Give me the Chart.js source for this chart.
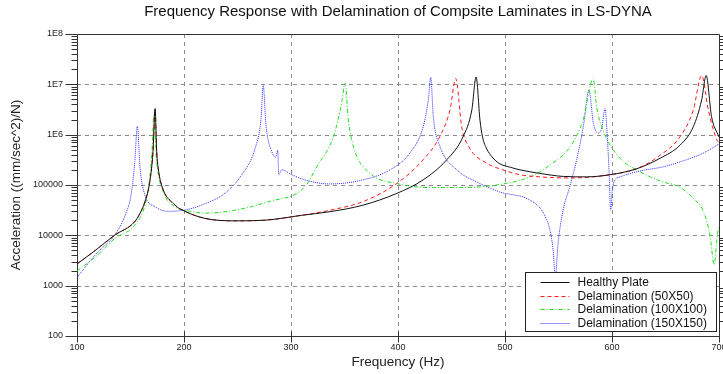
<!DOCTYPE html>
<html>
<head>
<meta charset="utf-8">
<script src="https://cdn.jsdelivr.net/npm/chart.js@4.4.1/dist/chart.umd.min.js"></script>
<style>
  html, body { margin: 0; padding: 0; background: #fff; }
  #wrap { width: 723px; height: 374px; }
</style>
</head>
<body>
<div id="wrap"><canvas id="frf"></canvas></div>
<script>
// values
const healthyFreq = [100, 117, 135, 154, 159, 163.5, 168, 171, 173, 174.5, 176, 179, 191.6, 201, 219.6, 247.7, 275.7, 310, 336.4, 367, 398.8, 423.4, 445.5, 460.8, 469, 473, 476.6, 479, 483, 488, 495, 505, 514, 532.7, 554.5, 576, 598, 623, 645, 663.6, 676, 683.8, 688, 693, 700];
const healthyAcc = [2700, 5000, 10000, 18700, 27700, 46500, 116000, 456000, 3300000, 456000, 210000, 100000, 40000, 30000, 21700, 19400, 20000, 25000, 29500, 39600, 68000, 126000, 316000, 910000, 3100000, 14000000, 1950000, 900000, 520000, 360000, 265000, 225000, 200000, 170000, 148000, 145000, 160000, 210000, 340000, 620000, 1440000, 4900000, 15000000, 2300000, 900000];

const del50Freq = [100, 117, 135, 154, 159, 163.5, 168, 171, 173, 174.5, 176, 179, 191.6, 201, 219.6, 247.7, 275.7, 310, 336.4, 367, 398.8, 423.4, 439, 448.6, 454, 459.5, 467, 483, 495, 514, 532.7, 561, 598, 623, 645, 663.6, 676, 683.8, 690, 698, 700];
const del50Acc = [2700, 5000, 10000, 18700, 27700, 46500, 116000, 456000, 3200000, 456000, 210000, 100000, 40000, 30000, 21700, 19400, 20000, 25000, 31600, 46500, 107000, 316000, 910000, 3100000, 13000000, 1450000, 540000, 270000, 210000, 160000, 145000, 138000, 160000, 210000, 390000, 910000, 3100000, 15000000, 3100000, 780000, 700000];

const del100Freq = [100, 117, 135.5, 154, 163.5, 168, 170.4, 171.7, 174.5, 180.7, 191.6, 201, 219.6, 247.7, 278.8, 313, 324, 339.6, 347.4, 350.5, 353.6, 358.3, 374, 398.8, 430, 461, 492, 523.4, 542, 561, 573, 582.5, 585.6, 591.8, 607.5, 623, 645, 663.6, 676, 685.4, 691.6, 695.5, 697.5, 699.4, 700];
const del100Acc = [1950, 3700, 8700, 16000, 40000, 138000, 620000, 2400000, 290000, 73000, 37000, 31600, 27600, 31600, 46500, 92000, 230000, 910000, 4300000, 10500000, 1950000, 580000, 170000, 107000, 89000, 89000, 100000, 145000, 250000, 580000, 1950000, 13000000, 3600000, 1200000, 340000, 200000, 120000, 90000, 54000, 30000, 10000, 2600, 6000, 13700, 14000];

const del150Freq = [100, 117, 135.5, 145, 151, 154, 156.4, 159, 163.5, 173, 185.4, 204, 219.6, 238, 254, 266.4, 272, 274, 276.6, 282, 285.7, 287.6, 288.5, 291.3, 300.7, 313, 336, 367, 392.5, 411, 423.6, 428.3, 430.6, 433, 439.3, 455, 473.6, 495, 523.4, 536, 542, 545, 547, 549.6, 554.3, 561, 567, 573.2, 578.5, 582.6, 587.3, 590.4, 593.5, 595.6, 597.2, 598.8, 600.3, 602.8, 607.5, 626, 648, 670, 685.4, 700];
const del150Acc = [1450, 4100, 10400, 25000, 73000, 290000, 1450000, 210000, 63000, 37000, 30000, 33000, 42500, 68000, 160000, 530000, 2100000, 9700000, 1550000, 460000, 360000, 490000, 160000, 200000, 160000, 126000, 105000, 126000, 200000, 430000, 1450000, 4900000, 13700000, 2300000, 580000, 200000, 115000, 73000, 50000, 27600, 12700, 5100, 1500, 6900, 31600, 100000, 320000, 1450000, 7700000, 1670000, 1070000, 1350000, 3300000, 910000, 200000, 31600, 80000, 126000, 145000, 190000, 230000, 320000, 430000, 650000];

const seriesNames = ['Healthy Plate', 'Delamination (50X50)', 'Delamination (100X100)', 'Delamination (150X150)'];

const yTickValues = [100, 1000, 10000, 100000, 1000000, 10000000, 100000000];
const yTickLabels = ['100', '1000', '10000', '100000', '1E6', '1E7', '1E8'];
const xTickValues = [100, 200, 300, 400, 500, 600, 700];

const FONT = "'Liberation Sans', Arial, sans-serif";

function toPoints(fs, vs) {
  return fs.map((f, i) => ({ x: f, y: vs[i] }));
}

// grid, axes, minor ticks and the boxed legend
const framePlugin = {
  id: 'frame',
  beforeDatasetsDraw(chart) {
    const { ctx, chartArea: a, scales: { x, y } } = chart;
    const px = v => Math.round(x.getPixelForValue(v)) + 0.5;
    const py = v => Math.round(y.getPixelForValue(v)) + 0.5;
    ctx.save();
    ctx.lineWidth = 1;
    ctx.strokeStyle = '#8a8a8a';
    ctx.setLineDash([4, 4]);
    ctx.beginPath();
    xTickValues.slice(1, -1).forEach(v => { ctx.moveTo(px(v), a.top); ctx.lineTo(px(v), a.bottom); });
    yTickValues.slice(1, -1).forEach(v => { ctx.moveTo(a.left, py(v)); ctx.lineTo(a.right, py(v)); });
    ctx.stroke();
    ctx.setLineDash([]);

    ctx.strokeStyle = '#333';
    const L = Math.round(a.left) + 0.5, R = Math.round(a.right) + 0.5;
    const T = py(yTickValues[yTickValues.length - 1]), B = py(yTickValues[0]);
    ctx.beginPath();
    ctx.moveTo(L, T); ctx.lineTo(R, T);
    ctx.moveTo(L, B); ctx.lineTo(R, B);
    ctx.moveTo(L, T); ctx.lineTo(L, B);
    ctx.moveTo(R, T); ctx.lineTo(R, B);
    // major ticks on the left axis
    yTickValues.forEach(v => { ctx.moveTo(L - 12, py(v)); ctx.lineTo(L, py(v)); });
    // minor ticks
    for (let d = 100; d < 1e8; d *= 10) {
      for (let k = 2; k <= 9; k++) {
        const yy = py(k * d);
        ctx.moveTo(L - 6, yy); ctx.lineTo(L, yy);
        ctx.moveTo(R, yy); ctx.lineTo(R + 5, yy);
      }
    }
    // x ticks cross the bottom axis
    xTickValues.forEach(v => { ctx.moveTo(px(v), B - 5); ctx.lineTo(px(v), B + 6); });
    ctx.stroke();
    ctx.restore();
  },
  afterDatasetsDraw(chart) {
    const { ctx, chartArea: a } = chart;
    const bx = Math.round(a.right) - 194 + 0.5, by = 272.5, bw = 191, bh = 59;
    ctx.save();
    ctx.fillStyle = '#fff';
    ctx.fillRect(bx, by, bw, bh);
    ctx.strokeStyle = '#222';
    ctx.lineWidth = 1;
    ctx.strokeRect(bx, by, bw, bh);
    ctx.font = '12px ' + FONT;
    ctx.textBaseline = 'middle';
    ctx.fillStyle = '#111';
    chart.data.datasets.forEach((ds, i) => {
      const ry = Math.round(by + 9.5 + i * 13.5) + 0.5;
      ctx.strokeStyle = ds.borderColor;
      ctx.setLineDash(ds.borderDash || []);
      ctx.beginPath();
      ctx.moveTo(bx + 15, ry); ctx.lineTo(bx + 44, ry);
      ctx.stroke();
      ctx.setLineDash([]);
      ctx.fillText(ds.label, bx + 52, ry);
    });
    ctx.restore();
  }
};

const common = { borderWidth: 1, pointRadius: 0, cubicInterpolationMode: 'monotone', fill: false };

new Chart(document.getElementById('frf'), {
  type: 'line',
  data: {
    datasets: [
      { ...common, label: seriesNames[0], data: toPoints(healthyFreq, healthyAcc), borderColor: '#111' },
      { ...common, label: seriesNames[1], data: toPoints(del50Freq, del50Acc), borderColor: '#ff1a1a', borderDash: [4, 3] },
      { ...common, label: seriesNames[2], data: toPoints(del100Freq, del100Acc), borderColor: '#1ee01e', borderDash: [4, 2, 1, 2] },
      { ...common, label: seriesNames[3], data: toPoints(del150Freq, del150Acc), borderColor: '#2a2aff', borderDash: [1, 1] }
    ]
  },
  options: {
    responsive: true,
    maintainAspectRatio: false,
    animation: false,
    layout: { padding: { left: 0, right: 4, top: 0, bottom: 0 } },
    plugins: {
      legend: { display: false },
      tooltip: { enabled: false },
      title: {
        display: true,
        fullSize: false,
        text: 'Frequency Response with Delamination of Compsite Laminates in LS-DYNA',
        color: '#111',
        font: { family: FONT, size: 15, weight: 'normal' },
        padding: { top: 3, bottom: 13 }
      }
    },
    scales: {
      x: {
        type: 'linear',
        min: 100,
        max: 700,
        afterBuildTicks: s => { s.ticks = xTickValues.map(v => ({ value: v })); },
        afterFit: s => { s.height = 38; s.paddingLeft = 0; s.paddingRight = 0; },
        grid: { display: false, drawTicks: false },
        border: { display: false },
        ticks: { color: '#222', font: { family: FONT, size: 9 }, padding: 6, maxRotation: 0 },
        title: { display: true, text: 'Frequency (Hz)', color: '#222', font: { family: FONT, size: 13.5 }, padding: { top: 0, bottom: 4 } }
      },
      y: {
        type: 'logarithmic',
        min: 100,
        max: 100000000,
        afterBuildTicks: s => { s.ticks = yTickValues.map(v => ({ value: v })); },
        afterFit: s => { s.width = 77; },
        grid: { display: false, drawTicks: false },
        border: { display: false },
        ticks: {
          color: '#222',
          font: { family: FONT, size: 9 },
          padding: 14,
          callback: v => yTickLabels[yTickValues.indexOf(v)]
        },
        title: { display: true, text: 'Acceleration ((mm/sec^2)/N)', color: '#222', font: { family: FONT, size: 13.5 }, padding: { top: 8, bottom: 0 } }
      }
    }
  },
  plugins: [framePlugin]
});
</script>
</body>
</html>
